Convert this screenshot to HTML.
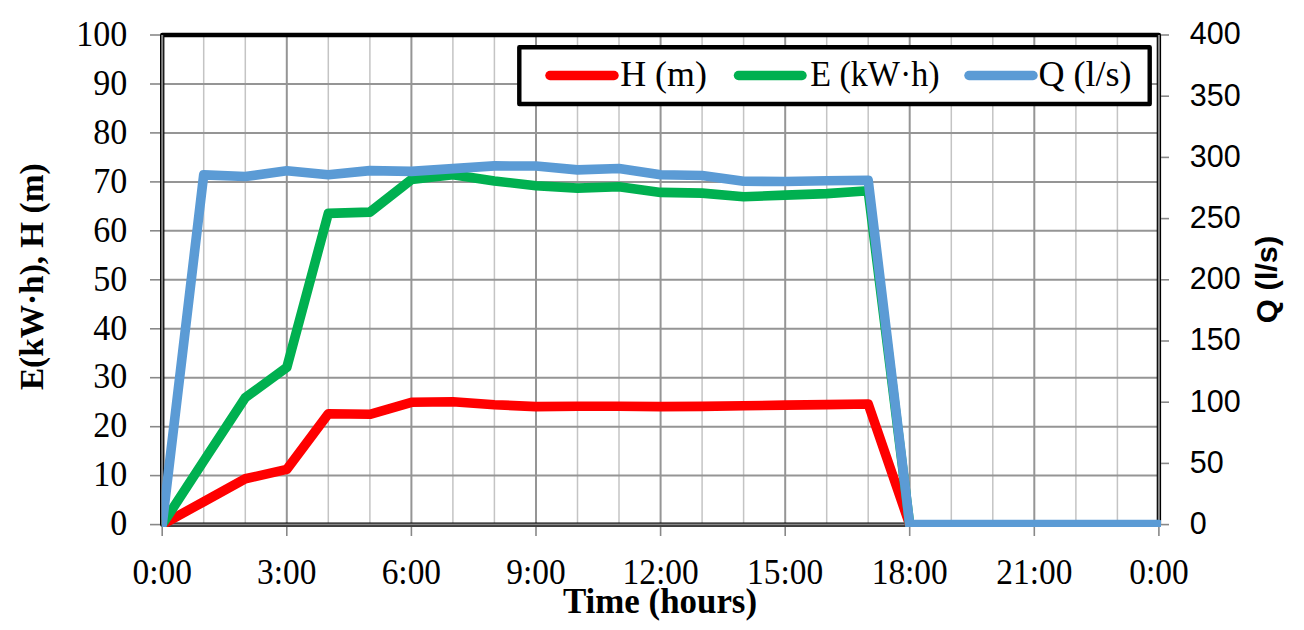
<!DOCTYPE html><html><head><meta charset="utf-8"><style>html,body{margin:0;padding:0;background:#fff;overflow:hidden}svg{display:block}</style></head><body>
<svg width="1304" height="630" viewBox="0 0 1304 630">
<rect width="1304" height="630" fill="#fff"/>
<line x1="203.7" y1="35.0" x2="203.7" y2="524.6" stroke="#c4c4c4" stroke-width="1.5"/>
<line x1="245.3" y1="35.0" x2="245.3" y2="524.6" stroke="#c4c4c4" stroke-width="1.5"/>
<line x1="328.3" y1="35.0" x2="328.3" y2="524.6" stroke="#c4c4c4" stroke-width="1.5"/>
<line x1="369.9" y1="35.0" x2="369.9" y2="524.6" stroke="#c4c4c4" stroke-width="1.5"/>
<line x1="452.9" y1="35.0" x2="452.9" y2="524.6" stroke="#c4c4c4" stroke-width="1.5"/>
<line x1="494.4" y1="35.0" x2="494.4" y2="524.6" stroke="#c4c4c4" stroke-width="1.5"/>
<line x1="577.5" y1="35.0" x2="577.5" y2="524.6" stroke="#c4c4c4" stroke-width="1.5"/>
<line x1="619.0" y1="35.0" x2="619.0" y2="524.6" stroke="#c4c4c4" stroke-width="1.5"/>
<line x1="702.1" y1="35.0" x2="702.1" y2="524.6" stroke="#c4c4c4" stroke-width="1.5"/>
<line x1="743.6" y1="35.0" x2="743.6" y2="524.6" stroke="#c4c4c4" stroke-width="1.5"/>
<line x1="826.7" y1="35.0" x2="826.7" y2="524.6" stroke="#c4c4c4" stroke-width="1.5"/>
<line x1="868.2" y1="35.0" x2="868.2" y2="524.6" stroke="#c4c4c4" stroke-width="1.5"/>
<line x1="951.3" y1="35.0" x2="951.3" y2="524.6" stroke="#c4c4c4" stroke-width="1.5"/>
<line x1="992.8" y1="35.0" x2="992.8" y2="524.6" stroke="#c4c4c4" stroke-width="1.5"/>
<line x1="1075.9" y1="35.0" x2="1075.9" y2="524.6" stroke="#c4c4c4" stroke-width="1.5"/>
<line x1="1117.4" y1="35.0" x2="1117.4" y2="524.6" stroke="#c4c4c4" stroke-width="1.5"/>
<line x1="286.8" y1="35.0" x2="286.8" y2="524.6" stroke="#959595" stroke-width="2"/>
<line x1="411.4" y1="35.0" x2="411.4" y2="524.6" stroke="#959595" stroke-width="2"/>
<line x1="536.0" y1="35.0" x2="536.0" y2="524.6" stroke="#959595" stroke-width="2"/>
<line x1="660.6" y1="35.0" x2="660.6" y2="524.6" stroke="#959595" stroke-width="2"/>
<line x1="785.2" y1="35.0" x2="785.2" y2="524.6" stroke="#959595" stroke-width="2"/>
<line x1="909.7" y1="35.0" x2="909.7" y2="524.6" stroke="#959595" stroke-width="2"/>
<line x1="1034.3" y1="35.0" x2="1034.3" y2="524.6" stroke="#959595" stroke-width="2"/>
<line x1="162.2" y1="475.6" x2="1158.9" y2="475.6" stroke="#959595" stroke-width="2"/>
<line x1="162.2" y1="426.7" x2="1158.9" y2="426.7" stroke="#959595" stroke-width="2"/>
<line x1="162.2" y1="377.7" x2="1158.9" y2="377.7" stroke="#959595" stroke-width="2"/>
<line x1="162.2" y1="328.8" x2="1158.9" y2="328.8" stroke="#959595" stroke-width="2"/>
<line x1="162.2" y1="279.8" x2="1158.9" y2="279.8" stroke="#959595" stroke-width="2"/>
<line x1="162.2" y1="230.8" x2="1158.9" y2="230.8" stroke="#959595" stroke-width="2"/>
<line x1="162.2" y1="181.9" x2="1158.9" y2="181.9" stroke="#959595" stroke-width="2"/>
<line x1="162.2" y1="132.9" x2="1158.9" y2="132.9" stroke="#959595" stroke-width="2"/>
<line x1="162.2" y1="84.0" x2="1158.9" y2="84.0" stroke="#959595" stroke-width="2"/>
<rect x="162.2" y="35.0" width="996.7" height="489.6" fill="none" stroke="#000" stroke-width="4.4" stroke-linejoin="round"/>
<line x1="162.2" y1="35.0" x2="162.2" y2="524.6" stroke="#888" stroke-width="2"/>
<line x1="1158.9" y1="35.0" x2="1158.9" y2="524.6" stroke="#888" stroke-width="2"/>
<line x1="162.2" y1="524.6" x2="1158.9" y2="524.6" stroke="#888" stroke-width="2"/>
<g stroke="#888" stroke-width="1.6"><line x1="150" y1="524.6" x2="160" y2="524.6"/><line x1="150" y1="475.6" x2="160" y2="475.6"/><line x1="150" y1="426.7" x2="160" y2="426.7"/><line x1="150" y1="377.7" x2="160" y2="377.7"/><line x1="150" y1="328.8" x2="160" y2="328.8"/><line x1="150" y1="279.8" x2="160" y2="279.8"/><line x1="150" y1="230.8" x2="160" y2="230.8"/><line x1="150" y1="181.9" x2="160" y2="181.9"/><line x1="150" y1="132.9" x2="160" y2="132.9"/><line x1="150" y1="84.0" x2="160" y2="84.0"/><line x1="150" y1="35.0" x2="160" y2="35.0"/><line x1="1161" y1="524.6" x2="1169" y2="524.6"/><line x1="1161" y1="463.4" x2="1169" y2="463.4"/><line x1="1161" y1="402.2" x2="1169" y2="402.2"/><line x1="1161" y1="341.0" x2="1169" y2="341.0"/><line x1="1161" y1="279.8" x2="1169" y2="279.8"/><line x1="1161" y1="218.6" x2="1169" y2="218.6"/><line x1="1161" y1="157.4" x2="1169" y2="157.4"/><line x1="1161" y1="96.2" x2="1169" y2="96.2"/><line x1="1161" y1="35.0" x2="1169" y2="35.0"/><line x1="162.2" y1="527" x2="162.2" y2="536"/><line x1="286.8" y1="527" x2="286.8" y2="536"/><line x1="411.4" y1="527" x2="411.4" y2="536"/><line x1="536.0" y1="527" x2="536.0" y2="536"/><line x1="660.6" y1="527" x2="660.6" y2="536"/><line x1="785.2" y1="527" x2="785.2" y2="536"/><line x1="909.7" y1="527" x2="909.7" y2="536"/><line x1="1034.3" y1="527" x2="1034.3" y2="536"/><line x1="1158.9" y1="527" x2="1158.9" y2="536"/></g>
<defs><clipPath id="c"><rect x="161.7" y="30" width="999.3" height="497.0"/></clipPath></defs>
<g clip-path="url(#c)" fill="none" stroke-width="9.6" stroke-linejoin="round" stroke-linecap="round">
<polyline points="162.2,524.6 203.7,501.7 245.3,478.8 286.8,469.4 328.3,413.8 369.9,414.3 411.4,402.3 452.9,401.8 494.4,404.7 536.0,406.6 577.5,406.2 619.0,406.2 660.6,406.6 702.1,406.4 743.6,405.8 785.2,405.1 826.7,404.6 868.2,404.0 909.7,524.6" stroke="#ff0000"/>
<polyline points="162.2,524.6 203.7,461.0 245.3,397.7 286.8,367.4 328.3,213.4 369.9,212.1 411.4,179.6 452.9,174.8 494.4,180.9 536.0,185.8 577.5,188.1 619.0,186.7 660.6,192.4 702.1,193.1 743.6,196.8 785.2,195.1 826.7,193.6 868.2,190.8 909.7,524.6" stroke="#00b050"/>
<polyline points="162.2,524.6 203.7,174.9 245.3,176.5 286.8,170.8 328.3,174.8 369.9,170.6 411.4,171.4 452.9,168.6 494.4,165.9 536.0,166.0 577.5,169.9 619.0,168.5 660.6,174.7 702.1,175.5 743.6,181.2 785.2,181.5 826.7,180.7 868.2,180.2 909.7,524.6 951.3,524.6 992.8,524.6 1034.3,524.6 1075.9,524.6 1117.4,524.6 1158.9,524.6" stroke="#5b9bd5"/>
</g>
<rect x="519.3" y="47.3" width="630.4" height="56.7" fill="#fff" stroke="#000" stroke-width="4.4" stroke-linejoin="round"/>
<g stroke-width="9.5" stroke-linecap="round">
<line x1="550" y1="75.5" x2="614" y2="75.5" stroke="#ff0000"/>
<line x1="738.5" y1="75.5" x2="802" y2="75.5" stroke="#00b050"/>
<line x1="969" y1="75.5" x2="1033" y2="75.5" stroke="#5b9bd5"/>
</g>
<g font-family="Liberation Serif" font-size="35" fill="#000">
<text transform="translate(620.2,85.8) scale(1.025,1)">H (m)</text>
<text transform="translate(810.2,85.8) scale(0.973,1)">E (kW·h)</text>
<text transform="translate(1038.5,85.8) scale(1.03,1)">Q (l/s)</text>
</g>
<g transform="scale(0.96,1)" font-family="Liberation Serif" font-size="35.5" fill="#000" text-anchor="end"><text x="132.60" y="535.4">0</text><text x="132.60" y="486.4">10</text><text x="132.60" y="437.5">20</text><text x="132.60" y="388.5">30</text><text x="132.60" y="339.6">40</text><text x="132.60" y="290.6">50</text><text x="132.60" y="241.6">60</text><text x="132.60" y="192.7">70</text><text x="132.60" y="143.7">80</text><text x="132.60" y="94.8">90</text><text x="132.60" y="45.8">100</text></g>
<g font-family="Liberation Sans" font-size="30.5" fill="#000"><text x="1189.8" y="534.0">0</text><text x="1189.8" y="472.8">50</text><text x="1189.8" y="411.6">100</text><text x="1189.8" y="350.4">150</text><text x="1189.8" y="289.2">200</text><text x="1189.8" y="228.0">250</text><text x="1189.8" y="166.8">300</text><text x="1189.8" y="105.6">350</text><text x="1189.8" y="44.4">400</text></g>
<g transform="scale(0.955,1)" font-family="Liberation Serif" font-size="35" fill="#000" text-anchor="middle"><text x="169.84" y="583.9">0:00</text><text x="300.30" y="583.9">3:00</text><text x="430.76" y="583.9">6:00</text><text x="561.23" y="583.9">9:00</text><text x="691.69" y="583.9">12:00</text><text x="822.15" y="583.9">15:00</text><text x="952.61" y="583.9">18:00</text><text x="1083.07" y="583.9">21:00</text><text x="1213.53" y="583.9">0:00</text></g>
<text x="660" y="612.6" font-family="Liberation Serif" font-weight="bold" font-size="34.9" text-anchor="middle">Time (hours)</text>
<text transform="translate(42.6,276.8) rotate(-90) scale(1,1.04)" x="0" y="0" font-family="Liberation Serif" font-weight="bold" font-size="33.3" text-anchor="middle">E(kW·h), H (m)</text>
<text transform="translate(1277,279.5) rotate(-90) scale(1.045,1)" x="0" y="0" font-family="Liberation Sans" font-weight="bold" font-size="29.5" text-anchor="middle">Q (l/s)</text>
</svg></body></html>
